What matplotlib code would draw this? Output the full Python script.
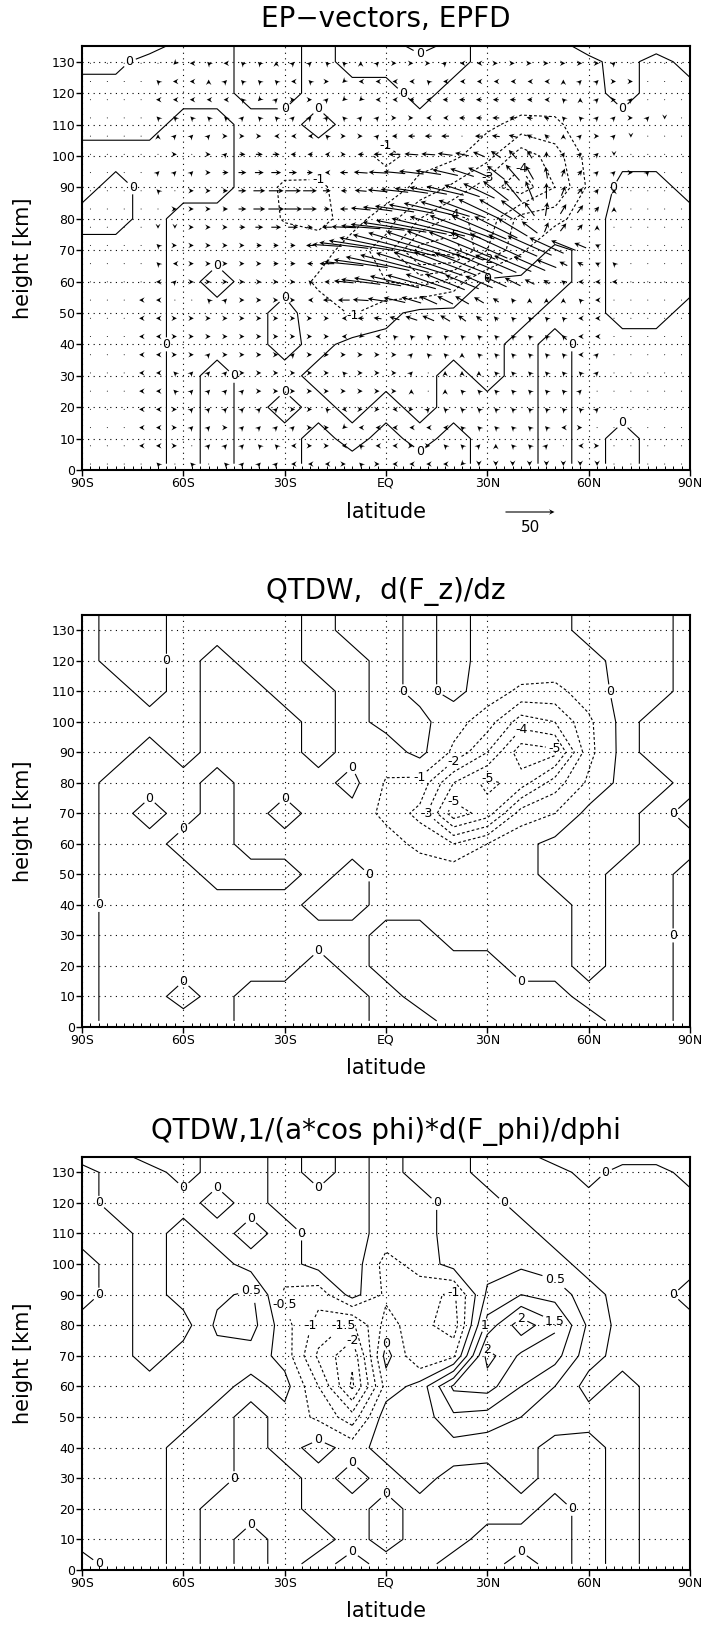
import numpy as np
import matplotlib
matplotlib.use('Agg')
import matplotlib.pyplot as plt

plt.rcParams['font.family'] = ['DejaVu Sans']
plt.rcParams['lines.dashed_pattern'] = [2.5, 2.0]

# ---------------- data ----------------
# contour grid (lat every 10 deg, heights in km)
lat_c = [-90, -80, -70, -60, -50, -40, -30, -20, -10, 0, 10, 20, 30, 40, 50, 60, 70, 80, 90]
hgt_c = [2, 10, 20, 30, 40, 50, 60, 70, 80, 90, 100, 110, 120, 130, 135]

# EP flux divergence (rows bottom -> top)
epfd = [
    [ .3, .3, .3,-.3, .3,-.3,-.3, .3, .3, .3, .3, .3,-.3,-.3, .3,-.3, .3,-.3,-.3],
    [ .3, .3, .3,-.3, .3,-.3,-.3, .3,-.3, .3,-.3, .3,-.3,-.3, .3,-.3, .3,-.3,-.3],
    [ .3, .3, .3,-.3, .3,-.3, .3,-.3, .3,-.3, .3,-.3,-.3,-.3, .3,-.3,-.3,-.3,-.3],
    [ .3, .3, .3,-.3, .3,-.3,-.3, .3, .3, .3, .3,-.3, .3,-.3, .3,-.3,-.3,-.3,-.3],
    [ .3, .3, .3,-.3,-.3,-.3, .3,-.3, .3, .3, .3, .3, .3,-.3, .3,-.3,-.3,-.3,-.3],
    [ .3, .3, .3,-.3,-.3,-.3, .3,-.5,-1.1,-.3, .3, .3, .3, .3,-.3,-.3, .3, .3,-.3],
    [ .3, .3, .3,-.3, .3,-.3,-.3,-1.2,-1.7,-2.0,-2.4,-1.6, .3, .3, .3,-.3, .3, .3, .3],
    [ .3, .3, .3,-.3,-.3,-.3,-.3,-.5,-1.5,-2.5,-5.4,-5.6,-3.0,-1.2, .3,-.3, .3, .3, .3],
    [-.3,-.3, .3,-.3,-.3,-.3,-1.1,-1.3,-.6,-1.5,-3.0,-4.3,-3.6,-1.6,-1.4,-.3, .3, .3, .3],
    [ .3,-.3, .3, .3, .3,-.3,-1.2,-1.2,-.5,-.4,-1.3,-2.2,-3.6,-4.6,-3.0,-.8, .3, .3,-.3],
    [ .3, .3, .3, .3, .3,-.3,-.3,-.4,-.5,-1.3,-.6,-.8,-1.6,-3.6,-2.5,-.6,-.3,-.3,-.3],
    [-.3,-.3,-.3, .3, .3,-.3,-.3, .3,-.3,-.4,-.3,-.5,-.8,-1.3,-1.2,-.4,-.3,-.3,-.3],
    [-.3,-.3,-.3,-.3,-.3, .3, .3,-.3,-.3,-.3, .3,-.3,-.3,-.3,-.4,-.3, .3,-.3,-.3],
    [ .2, .2,-.3,-.3,-.3, .3, .3,-.3, .3, .3, .3, .3,-.3,-.3,-.3,-.2, .3,-.3, .3],
    [ .3, .3, .3,-.3,-.3, .3, .3,-.3, .3, .4,-.3, .3,-.3,-.3,-.3, .3, .3, .3, .3],
]

# d(F_z)/dz
dfz = [
    [ .3,-.3,-.3,-.3,-.3, .3, .3, .3, .3,-.3,-.3, .3, .3, .3, .3, .3,-.3,-.3, .3],
    [ .3,-.3,-.3, .3,-.3, .3, .3, .3, .3,-.3, .3, .3, .3, .3, .3,-.3,-.3,-.3, .3],
    [ .3,-.3,-.3,-.3,-.3,-.3,-.3, .3,-.3, .3, .3, .3, .3,-.3,-.3, .3,-.3,-.3, .3],
    [ .3,-.3,-.3,-.3,-.3,-.3,-.3,-.3,-.3, .3, .3,-.3,-.3,-.3,-.3, .3,-.3,-.3, .3],
    [ .3,-.3,-.3,-.3,-.3,-.3,-.3, .3, .3,-.3,-.3,-.3,-.3,-.3,-.3, .3,-.3,-.3, .3],
    [ .3,-.3,-.3,-.3, .3, .3, .3,-.3, .3,-.3,-.3,-.3,-.3,-.3, .3, .3,-.3,-.3, .3],
    [ .3,-.3,-.3, .3, .3,-.3,-.3,-.3,-.3,-.5,-1.3,-2.0,-1.0,-.3, .3, .3, .3,-.3,-.3],
    [ .3,-.3, .3,-.3, .3,-.3, .3,-.3,-.3,-1.3,-2.3,-5.6,-4.5,-1.5,-1.0, .3, .3,-.3, .3],
    [ .3,-.3,-.3,-.3, .3,-.3,-.3,-.3, .3,-1.1,-1.3,-4.0,-5.3,-4.5,-2.5,-.8, .3, .3,-.3],
    [ .3, .3,-.3, .3,-.3,-.3,-.3, .3,-.3,-.5, .3,-1.2,-3.0,-5.6,-5.3,-1.3, .3,-.3,-.3],
    [ .3, .3, .3, .3,-.3,-.3,-.3, .3,-.3, .3, .3,-.6,-1.5,-3.5,-3.0,-1.2, .3,-.3,-.3],
    [ .3, .3,-.3, .3,-.3,-.3, .3, .3,-.3, .3,-.3, .3,-.5,-1.2,-1.3,-.5, .3, .3,-.3],
    [ .3,-.3,-.3, .3,-.3, .3, .3,-.3,-.3, .3,-.3, .3,-.3,-.3,-.3,-.3, .3, .3,-.3],
    [ .3,-.3,-.3, .3, .3, .3, .3,-.3, .3, .3,-.3, .3,-.3,-.3,-.3, .3, .3, .3,-.3],
    [ .3,-.3,-.3, .3, .3, .3, .3,-.3, .3, .3,-.3, .3,-.3,-.3,-.3, .3, .3, .3,-.3],
]

# 1/(a cos phi) d(F_phi)/dphi
dfphi = [
    [-.2, .2, .2,-.2, .2,-.2, .2,-.2, .2,-.2,-.2, .2, .2,-.2, .2,-.2, .2,-.2,-.2],
    [ .2, .2, .2,-.2, .2,-.2, .2, .2,-.2, .2,-.2,-.2, .2, .2, .2,-.2, .2,-.2,-.2],
    [ .2, .2, .2,-.2, .2, .2, .2,-.2,-.2, .2,-.2,-.2,-.2,-.2, .2,-.2, .2,-.2,-.2],
    [ .2, .2, .2,-.2,-.2, .2, .2,-.2, .2,-.2, .2,-.2,-.2, .2,-.2,-.2, .2,-.2,-.2],
    [ .2, .2, .2,-.2,-.2, .2,-.2, .2,-.2, .2, .2, .3, .2, .2,-.2,-.2, .2,-.2,-.2],
    [ .2, .2, .2, .2,-.2, .2,-.2,-.6,-1.3, .3, .2, .9, .8, .5, .3, .2, .2,-.2,-.2],
    [ .2, .2, .2, .3, .2,-.2, .2,-1.0,-2.6,-.3, .2, 1.6, 1.7, 1.0, .5,-.2, .2,-.2,-.2],
    [ .2, .2,-.2, .2, .3, .3,-.2,-1.6,-2.4, .2,-1.0,-.6, 2.2, 1.4, 1.2, .2,-.2,-.2,-.2],
    [ .2, .2,-.2,-.2, .6, .7,-.3,-1.2,-1.6,-.3,-.8,-1.3, 1.2, 2.3, 1.6, .4,-.2,-.2,-.2],
    [-.2, .2,-.2, .2, .4, .6,-.6,-.8, .2,-.6,-.8,-1.1, .6, 1.0, .8, .2,-.2,-.2, .2],
    [-.2, .2,-.2, .2, .2,-.2,-.2, .2, .3,-.7,-.3, .2, .3, .4, .2,-.2,-.2,-.2,-.2],
    [ .2, .2,-.2, .2,-.2, .2,-.2, .2, .2,-.2,-.2, .2, .2, .2,-.2,-.2,-.2,-.2,-.2],
    [ .2,-.2,-.2,-.2, .2,-.2, .2, .2, .2,-.2,-.2, .2, .2,-.2,-.2,-.2,-.2,-.2,-.2],
    [ .2,-.2,-.2, .2,-.2,-.2, .2,-.2, .2,-.2, .2, .2,-.2,-.2,-.2, .2,-.2,-.2, .2],
    [-.2,-.2, .2, .2,-.2,-.2, .2,-.2, .2,-.2, .2, .2,-.2,-.2, .2, .2, .2, .2, .2],
]

# EP vectors on model grid (rows top -> bottom)
lat_v = [-87.5, -82.5, -77.5, -72.5, -67.5, -62.5, -57.5, -52.5, -47.5, -42.5, -37.5, -32.5,
         -27.5, -22.5, -17.5, -12.5, -7.5, -2.5, 2.5, 7.5, 12.5, 17.5, 22.5, 27.5,
         32.5, 37.5, 42.5, 47.5, 52.5, 57.5, 62.5, 67.5, 72.5, 77.5, 82.5, 87.5]
hgt_v = [129.5, 123.7, 117.9, 112.1, 106.3, 100.5, 94.7, 88.9, 83.1, 77.3, 71.5, 65.7,
         59.9, 54.1, 48.3, 42.5, 36.7, 30.9, 25.1, 19.3, 13.5, 7.7, 1.9]

u_ep = [
    [0,0,0,0,0,-3,-4,-3,-4,-3,-3,0,3,3,-3,-3,0,3, 4,4,4,3,-4,-4,4,4,4,4,4,4,4,3,0,0,0,0],
    [0,0,0,0,-3,-4,-4,0,3,-3,-3,-3,-4,-3,4,-3,-4,-4, -4,-4,-3,-4,-4,-4,-4,-4,-4,-4,0,3,3,4,4,0,0,0],
    [0,0,0,0,-4,-4,-4,-4,-4,-3,-3,3,4,4,3,-3,-3,-4, -4,-5,-4,-5,-6,-6,-6,-6,-5,-4,-3,0,3,4,3,0,0,0],
    [0,0,0,0,-3,-3,-3,-3,-3,3,-3,-3,3,3,3,-3,3,3, 4,4,-4,-4,-6,-6,-7,-7,-6,-5,-3,-3,3,3,4,3,0,0],
    [0,0,0,0,0,3,3,3,4,4,4,-4,-4,-4,-3,4,4,3, -5,-7,-7,-8,0,-8,-8,-8,-6,-4,0,3,4,3,0,0,0,0],
    [0,0,0,0,0,4,0,4,3,6,7,7,-5,-5,-4,4,-6,-8, -12,-14,-14,-15,-14,-12,-10,-8,-5,0,3,3,3,0,0,0,0,0],
    [0,0,0,0,3,3,3,4,6,8,9,10,8,6,-4,-8,-14,-18, -22,-25,-26,-26,-24,-22,-18,-14,-8,-2,3,4,3,3,4,3,0,0],
    [0,0,0,0,-3,0,4,4,5,8,12,15,16,14,8,-6,-12,-20, -28,-34,-38,-38,-36,-32,-26,-18,-8,0,4,5,3,0,0,0,0,0],
    [0,0,0,0,0,4,4,4,5,8,12,16,18,14,6,-8,-20,-30, -40,-46,-50,-50,-48,-42,-34,-24,-10,2,6,6,4,0,0,0,0,0],
    [0,0,0,0,0,0,4,4,4,6,8,10,10,6,-10,-25,-40,-55, -65,-72,-75,-72,-66,-56,-44,-30,-16,4,6,5,0,0,0,0,0,0],
    [0,0,0,0,-3,4,4,4,4,4,5,5,5,-8,-30,-50,-65,-78, -85,-88,-85,-78,-68,-58,-52,-50,-45,-35,-25,-12,-4,0,0,0,0,0],
    [0,0,0,0,-3,-4,4,4,4,4,4,5,5,-6,-15,-40,-55,-65, -70,-72,-70,-64,-56,-48,-42,-38,-32,-20,-8,-6,-4,-3,0,0,0,0],
    [0,0,0,0,-4,3,4,4,4,4,4,4,4,-3,-5,-20,-40,-48, -50,-50,-46,-40,-34,-28,-22,-16,-10,-6,-4,-4,-4,-4,0,0,0,0],
    [0,0,0,-4,-4,0,0,-3,3,4,4,4,4,-4,-8,-12,-16,-20, -22,-20,-18,-16,-14,-10,-6,-3,0,0,0,-3,-4,0,0,0,0,0],
    [0,0,0,-4,-4,4,4,4,4,4,4,4,4,4,4,-4,-6,-8, -10,-12,-12,-10,-8,-6,-4,-3,-3,-3,-3,-4,-4,0,0,0,0,0],
    [0,0,0,-4,-4,4,4,4,4,4,4,4,4,4,4,-4,-3,-4, -3,-3,-3,-3,-3,-3,-3,-3,-3,-3,-3,-4,-4,0,0,0,0,0],
    [0,0,0,-4,-4,4,4,3,4,4,4,4,3,4,4,4,4,4, 4,3,-3,-3,0,-3,-3,-3,-3,-3,-3,-4,3,0,0,0,0,0],
    [0,0,0,-4,-4,-3,3,3,3,4,4,4,4,4,4,-3,4,4, 4,3,0,0,0,0,-3,-3,-3,-3,-3,-3,3,0,0,0,0,0],
    [0,0,0,-4,-4,-3,3,3,3,3,4,4,4,4,4,4,4,4, 4,0,0,0,-3,-3,-3,-3,-3,-3,-3,3,0,0,0,0,0,0],
    [0,0,0,-4,-4,4,3,3,3,3,3,3,4,4,-3,-4,4,4, -4,4,3,-3,-3,-3,-3,-3,-3,-3,-3,-3,3,0,0,0,0,0],
    [0,0,0,-4,-4,4,3,3,4,3,3,3,3,4,4,-3,-4,-4, -4,-4,-4,-4,-3,-3,-3,-3,-3,-3,-4,4,0,0,0,0,0,0],
    [0,0,0,-4,-4,4,0,3,3,3,-3,-3,-4,4,4,-4,-3,-4, -4,4,4,-3,-3,3,0,-3,-3,3,0,-4,4,0,0,0,0,0],
    [0,0,0,0,-3,0,-3,0,-3,3,3,3,-4,-4,-4,4,-3,4, -4,-4,-4,-4,-3,0,0,0,0,0,0,0,0,0,0,0,0,0],
]
v_ep = [
    [0,0,0,0,0,-3,0,3,0,3,3,4,3,3,3,3,4,3, 0,0,0,3,0,0,0,0,0,0,0,0,0,3,0,0,0,0],
    [0,0,0,0,3,0,0,4,3,3,3,3,0,3,0,-3,0,0, 0,0,3,0,0,0,0,0,0,0,4,3,3,0,0,0,0,0],
    [0,0,0,0,0,0,0,0,0,3,-3,3,0,0,3,-3,-3,0, 0,0,0,0,0,0,0,0,0,0,3,4,3,0,3,0,0,0],
    [0,0,0,0,3,3,3,3,3,3,3,3,3,3,3,3,3,3, 0,0,0,0,0,0,0,0,1,2,3,3,3,3,0,3,-3,0],
    [0,0,0,0,4,3,3,3,0,0,0,0,0,0,3,0,0,3, 0,0,0,0,0,0,1,2,3,4,4,3,0,3,-3,0,0,0],
    [0,0,0,0,0,0,0,0,3,0,0,0,0,0,0,0,0,0, 0,1,1,2,3,5,7,9,8,6,4,3,3,-3,0,0,0,0],
    [0,0,0,0,3,3,3,0,0,0,0,0,0,0,0,0,1,1, 2,3,4,6,8,10,14,16,14,12,8,5,3,3,0,3,0,0],
    [0,0,0,0,3,0,0,0,0,0,0,0,0,0,0,0,1,2, 3,5,7,9,12,15,20,22,20,16,10,6,4,4,0,0,0,0],
    [0,0,0,0,0,0,0,0,0,0,0,0,0,0,0,0,2,4, 6,9,12,15,18,20,20,18,14,14,10,8,5,4,0,0,0,0],
    [0,0,0,0,-3,-3,0,0,0,0,0,0,0,0,0,1,3,6, 10,14,18,22,24,24,22,18,12,10,8,6,4,0,0,0,0,0],
    [0,0,0,0,3,0,0,0,0,0,0,0,0,0,2,6,10,16, 22,26,28,30,28,26,24,22,20,16,10,5,2,0,0,0,0,0],
    [0,0,0,0,3,0,0,0,0,0,0,0,0,0,0,4,8,14, 18,22,24,24,22,20,18,16,14,8,4,3,2,3,0,0,0,0],
    [0,0,0,0,0,3,0,0,0,0,0,0,0,3,0,2,5,8, 12,14,16,16,14,12,10,8,5,4,3,0,0,0,0,0,0,0],
    [0,0,0,0,0,0,0,3,3,0,0,0,0,0,0,0,1,3, 5,6,8,8,8,6,4,4,4,4,4,3,0,0,0,0,0,0],
    [0,0,0,0,0,0,0,0,0,0,0,0,0,0,0,0,0,1, 3,4,5,6,6,5,4,3,3,3,3,0,0,0,0,0,0,0],
    [0,0,0,0,0,0,0,0,0,0,0,0,0,0,0,0,-3,0, 3,3,3,3,3,3,3,3,3,3,3,0,0,0,0,0,0,0],
    [0,0,0,0,0,0,0,3,0,0,0,0,3,0,0,0,0,0, 0,3,3,3,4,3,3,3,3,3,3,0,3,0,0,0,0,0],
    [0,0,0,0,0,3,3,3,3,0,0,0,0,0,0,3,0,0, 0,3,0,4,4,4,3,3,3,3,3,3,3,0,0,0,0,0],
    [0,0,0,0,0,3,3,3,3,3,0,0,0,0,0,0,0,0, 0,4,0,4,3,3,3,3,3,3,3,3,0,0,0,0,0,0],
    [0,0,0,0,0,0,3,3,3,3,3,3,0,0,3,0,0,0, 0,0,3,3,3,3,3,3,3,3,3,3,3,0,0,0,0,0],
    [0,0,0,0,0,0,3,3,0,3,3,3,3,0,0,-3,0,0, 0,0,0,0,3,3,3,3,3,3,0,0,0,0,0,0,0,0],
    [0,0,0,0,0,0,0,3,3,3,3,3,0,0,0,0,3,0, 0,0,0,3,3,3,4,3,3,3,0,0,0,0,0,0,0,0],
    [0,0,0,0,3,0,3,0,3,3,3,3,0,0,0,0,3,0, 0,0,0,0,-3,-4,-4,-4,-4,-4,-4,-4,-4,0,0,0,0,0],
]

lat_ticks = [-90, -60, -30, 0, 30, 60, 90]
lat_labels = ['90S', '60S', '30S', 'EQ', '30N', '60N', '90N']
hgt_ticks = [0, 10, 20, 30, 40, 50, 60, 70, 80, 90, 100, 110, 120, 130]

# ---------------- layout (pixels) ----------------
W, H = 704, 1627
fig = plt.figure(figsize=(W / 100, H / 100), dpi=100)


def box(left, top, right, bottom):
    return [left / W, 1 - bottom / H, (right - left) / W, (bottom - top) / H]


panels = [
    dict(top=46, bottom=470, title='EP\u2212vectors, EPFD', ty=19, xl=512,
         field=epfd, levels=[-6, -5, -4, -3, -2, -1, 0]),
    dict(top=615, bottom=1027, title='QTDW,  d(F_z)/dz', ty=592, xl=1068,
         field=dfz, levels=[-6, -5, -4, -3, -2, -1, 0]),
    dict(top=1157, bottom=1570, title='QTDW,1/(a*cos phi)*d(F_phi)/dphi', ty=1132, xl=1611,
         field=dfphi, levels=[-3, -2.5, -2, -1.5, -1, -0.5, 0, 0.5, 1, 1.5, 2, 2.5]),
]

for k, p in enumerate(panels):
    ax = fig.add_axes(box(82, p['top'], 690, p['bottom']))
    ax.set_xlim(-90, 90)
    ax.set_ylim(0, 135)
    ax.set_xticks(lat_ticks)
    ax.set_xticklabels(lat_labels)
    ax.set_xticks(np.arange(-90, 90.1, 2.5), minor=True)
    ax.set_yticks(hgt_ticks)
    ax.tick_params(axis='both', which='major', direction='out', length=4, width=1,
                   labelsize=9, pad=1)
    ax.tick_params(axis='x', which='minor', direction='in', length=3, width=0.7)
    ax.grid(True, which='major', color='black', linestyle=(0, (1, 4)), linewidth=0.8)
    for s in ax.spines.values():
        s.set_linewidth(1.5)

    lev = p['levels']
    styles = ['--' if v < 0 else '-' for v in lev]
    cs = ax.contour(lat_c, hgt_c, np.array(p['field']), levels=lev, colors='black',
                    linewidths=0.8, linestyles=styles)
    labels = ax.clabel(cs, lev, inline=True, fontsize=9, inline_spacing=3,
                       fmt=lambda v: f'{v:g}')
    for t in labels:
        t.set_rotation(0)

    if k == 0:
        q = ax.quiver(lat_v, hgt_v, np.array(u_ep), np.array(v_ep), pivot='middle',
                      angles='uv', scale_units='inches', scale=102, units='dots',
                      width=1.1, headwidth=5, headlength=5, headaxislength=3.5,
                      minshaft=0.6, color='black', zorder=3)
        ax.quiverkey(q, 530 / W, 1 - 512 / H, 50, '50', labelpos='S',
                     coordinates='figure', labelsep=0.08,
                     fontproperties={'size': 11})

    fig.text(386 / W, 1 - p['ty'] / H, p['title'], ha='center', va='center', fontsize=20)
    fig.text(386 / W, 1 - p['xl'] / H, 'latitude', ha='center', va='center', fontsize=15)
    fig.text(23 / W, 1 - (p['top'] + p['bottom']) / 2 / H, 'height [km]', ha='center',
             va='center', rotation=90, fontsize=15)

fig.savefig('out.png', dpi=100)
